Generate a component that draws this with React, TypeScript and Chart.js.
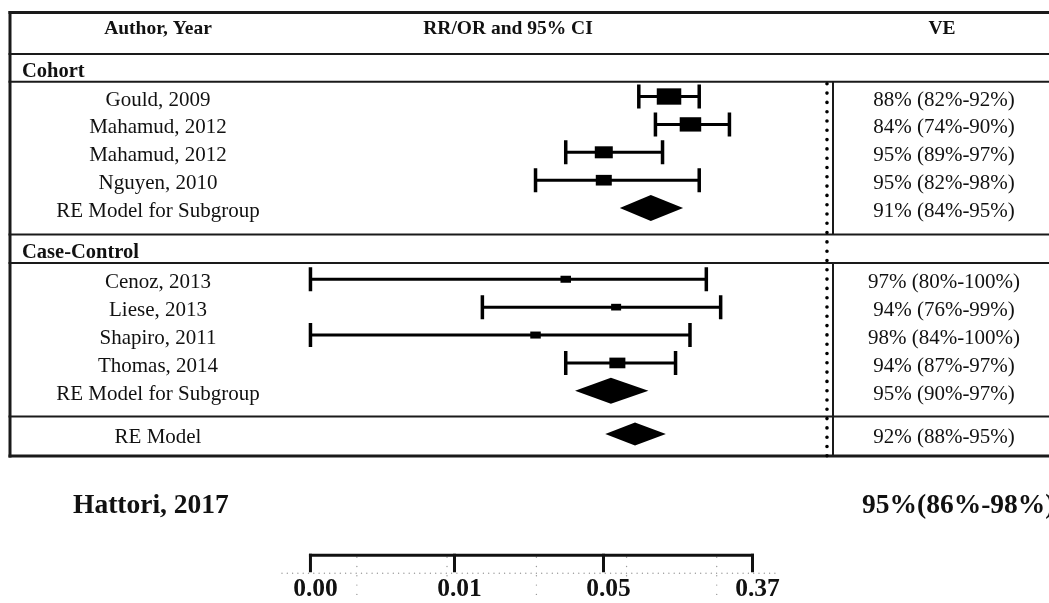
import React, { useEffect, useRef } from "react";
import { Chart, registerables } from "chart.js";

Chart.register(...registerables);

// ---------------- data ----------------
const headerLabels = ["Author, Year", "RR/OR and 95% CI", "VE"];
const groupLabels = ["Cohort", "Case-Control"];

const cohortStudies = ["Gould, 2009", "Mahamud, 2012", "Mahamud, 2012", "Nguyen, 2010"];
const cohortRR = [0.12, 0.16, 0.05, 0.05];
const cohortLower = [0.08, 0.1, 0.03, 0.02];
const cohortUpper = [0.18, 0.27, 0.11, 0.18];
const cohortWeight = [24.5, 21.5, 18, 16];
const cohortVE = ["88% (82%-92%)", "84% (74%-90%)", "95% (89%-97%)", "95% (82%-98%)"];

const ccStudies = ["Cenoz, 2013", "Liese, 2013", "Shapiro, 2011", "Thomas, 2014"];
const ccRR = [0.03, 0.059, 0.02, 0.06];
const ccLower = [0, 0.0098, 0, 0.03];
const ccUpper = [0.198, 0.24, 0.159, 0.131];
const ccWeight = [10.5, 10, 10.5, 16];
const ccVE = ["97% (80%-100%)", "94% (76%-99%)", "98% (84%-100%)", "94% (87%-97%)"];

const pooledLabels = ["RE Model for Subgroup", "RE Model for Subgroup", "RE Model"];
const pooledRR = [0.094, 0.055, 0.076];
const pooledLower = [0.062, 0.034, 0.051];
const pooledUpper = [0.145, 0.091, 0.115];
const pooledVE = ["91% (84%-95%)", "95% (90%-97%)", "92% (88%-95%)"];

const extraStudy = "Hattori, 2017";
const extraVE = "95%(86%-98%)";

const axisTickValues = [0.000912, 0.00674, 0.0498, 0.368];
const axisTickLabels = ["0.00", "0.01", "0.05", "0.37"];

// ---------------- layout ----------------
const X_MIN = -11.1;
const X_MAX = 2.98;
const X_CLIP = -6.933;
const Y_MIN = -3.459;
const Y_MAX = 18.154;

const COHORT_ROWS = [0, 1, 2, 3];
const CC_ROWS = [6.55, 7.55, 8.55, 9.55];
const POOLED_ROWS = [4, 10.55, 12.1];
const EXTRA_ROW = 14.6;
const AXIS_ROW = 16.44;

const TABLE_TOP = -3.011;
const HEAD_LINE = -1.523;
const G1_LINE = -0.527;
const G2_TOP = 4.946;
const G2_LINE = 5.968;
const OVERALL_LINE = 11.47;
const TABLE_BOTTOM = 12.885;
const HEADER_BASE = -2.24;
const GROUP_BASES = [-0.717, 5.8];
const GRID_X = [-6.31, -5.1, -3.9, -2.69, -1.48];

const TABLE_LEFT = 10;
const LABEL_CX = 158;
const HEAD_CX = [158, 508, 942];
const VE_CX = 944;
const COL_LINE_X = 833;

const SERIF = '"Liberation Serif", "Times New Roman", serif';
const INK = "#111";

const forestPlugin = {
  id: "forest",
  afterDatasetsDraw(chart: any) {
    const ctx: CanvasRenderingContext2D = chart.ctx;
    const xs = chart.scales.x;
    const ys = chart.scales.y;
    const px = (rr: number) => xs.getPixelForValue(Math.max(Math.log(rr), X_CLIP));
    const pxv = (v: number) => xs.getPixelForValue(v);
    const py = (v: number) => ys.getPixelForValue(v);
    const W = chart.width;

    ctx.save();
    ctx.strokeStyle = "#1a1a1a";
    ctx.fillStyle = INK;

    const hline = (v: number, lw: number) => {
      ctx.lineWidth = lw;
      ctx.beginPath();
      ctx.moveTo(TABLE_LEFT - 1.5, py(v));
      ctx.lineTo(W + 2, py(v));
      ctx.stroke();
    };
    // table borders
    hline(TABLE_TOP, 3);
    hline(HEAD_LINE, 2);
    hline(G1_LINE, 2);
    hline(G2_TOP, 2);
    hline(G2_LINE, 2);
    hline(OVERALL_LINE, 2);
    hline(TABLE_BOTTOM, 3);
    ctx.lineWidth = 3;
    ctx.beginPath();
    ctx.moveTo(TABLE_LEFT, py(TABLE_TOP) - 1.5);
    ctx.lineTo(TABLE_LEFT, py(TABLE_BOTTOM) + 1.5);
    ctx.stroke();
    // VE column separator
    ctx.lineWidth = 2;
    ctx.beginPath();
    ctx.moveTo(COL_LINE_X, py(G1_LINE));
    ctx.lineTo(COL_LINE_X, py(G2_TOP));
    ctx.moveTo(COL_LINE_X, py(G2_LINE));
    ctx.lineTo(COL_LINE_X, py(TABLE_BOTTOM));
    ctx.stroke();

    // reference line RR = 1
    ctx.save();
    ctx.strokeStyle = "#000";
    ctx.lineWidth = 3.6;
    ctx.lineCap = "round";
    ctx.setLineDash([0, 9.3]);
    ctx.beginPath();
    ctx.moveTo(px(1), py(G1_LINE) + 2);
    ctx.lineTo(px(1), py(TABLE_BOTTOM));
    ctx.stroke();
    ctx.restore();

    // texts
    ctx.textBaseline = "alphabetic";
    ctx.textAlign = "center";
    ctx.font = `bold 19.5px ${SERIF}`;
    headerLabels.forEach((t, i) => ctx.fillText(t, HEAD_CX[i], py(HEADER_BASE)));
    ctx.textAlign = "left";
    ctx.font = `bold 20.5px ${SERIF}`;
    groupLabels.forEach((t, i) => ctx.fillText(t, 22, py(GROUP_BASES[i])));

    ctx.font = `21px ${SERIF}`;
    ctx.textAlign = "center";
    const rowText = (label: string, ve: string, row: number) => {
      const y = py(row) + 9;
      ctx.fillText(label, LABEL_CX, y);
      ctx.fillText(ve, VE_CX, y);
    };
    cohortStudies.forEach((s, i) => rowText(s, cohortVE[i], COHORT_ROWS[i]));
    ccStudies.forEach((s, i) => rowText(s, ccVE[i], CC_ROWS[i]));
    pooledLabels.forEach((s, i) => rowText(s, pooledVE[i], POOLED_ROWS[i]));

    // study marks
    const study = (rr: number, lo: number, hi: number, w: number, row: number) => {
      const y = py(row);
      const x0 = px(lo);
      const x1 = px(hi);
      ctx.strokeStyle = "#000";
      ctx.lineWidth = 3;
      ctx.beginPath();
      ctx.moveTo(x0, y);
      ctx.lineTo(x1, y);
      ctx.stroke();
      ctx.lineWidth = 3.5;
      ctx.beginPath();
      ctx.moveTo(x0, y - 12);
      ctx.lineTo(x0, y + 12);
      ctx.moveTo(x1, y - 12);
      ctx.lineTo(x1, y + 12);
      ctx.stroke();
      const h = w / 1.5;
      ctx.fillStyle = "#000";
      ctx.fillRect(px(rr) - w / 2, y - h / 2, w, h);
    };
    cohortRR.forEach((r, i) => study(r, cohortLower[i], cohortUpper[i], cohortWeight[i], COHORT_ROWS[i]));
    ccRR.forEach((r, i) => study(r, ccLower[i], ccUpper[i], ccWeight[i], CC_ROWS[i]));

    // pooled diamonds
    pooledRR.forEach((r, i) => {
      const y = py(POOLED_ROWS[i]);
      const hh = i === 2 ? 11.5 : 13;
      ctx.fillStyle = "#000";
      ctx.beginPath();
      ctx.moveTo(px(pooledLower[i]), y);
      ctx.lineTo(px(r), y - hh);
      ctx.lineTo(px(pooledUpper[i]), y);
      ctx.lineTo(px(r), y + hh);
      ctx.closePath();
      ctx.fill();
    });

    // extra study row
    ctx.fillStyle = INK;
    ctx.font = `bold 27.5px ${SERIF}`;
    ctx.textAlign = "left";
    ctx.fillText(extraStudy, 73, py(EXTRA_ROW) + 9);
    ctx.fillText(extraVE, 862, py(EXTRA_ROW) + 9);

    // bottom axis
    const ay = py(AXIS_ROW);
    // faint dotted grid
    ctx.save();
    ctx.strokeStyle = "#9a9a9a";
    ctx.lineWidth = 1.4;
    ctx.lineCap = "round";
    ctx.setLineDash([0, 5.3]);
    ctx.beginPath();
    ctx.moveTo(282, ay + 18);
    ctx.lineTo(775, ay + 18);
    ctx.stroke();
    ctx.setLineDash([0, 9.3]);
    GRID_X.forEach((g) => {
      ctx.beginPath();
      ctx.moveTo(pxv(g), ay + 2);
      ctx.lineTo(pxv(g), chart.height);
      ctx.stroke();
    });
    ctx.restore();

    ctx.strokeStyle = "#111";
    ctx.lineWidth = 3;
    ctx.beginPath();
    ctx.moveTo(px(axisTickValues[0]) - 1.5, ay);
    ctx.lineTo(px(axisTickValues[axisTickValues.length - 1]) + 1.5, ay);
    ctx.stroke();
    ctx.beginPath();
    axisTickValues.forEach((t) => {
      ctx.moveTo(px(t), ay - 1.5);
      ctx.lineTo(px(t), ay + 17);
    });
    ctx.stroke();
    ctx.font = `bold 25.5px ${SERIF}`;
    ctx.textAlign = "center";
    ctx.fillStyle = INK;
    axisTickValues.forEach((t, i) => ctx.fillText(axisTickLabels[i], px(t) + 5, ay + 41));

    ctx.restore();
  },
};

export default function App() {
  const ref = useRef<HTMLCanvasElement>(null);
  useEffect(() => {
    const canvas = ref.current;
    if (!canvas) return;
    const chart = new Chart(canvas, {
      type: "scatter",
      data: {
        datasets: [
          {
            label: "Cohort",
            data: cohortRR.map((r, i) => ({ x: Math.log(r), y: COHORT_ROWS[i] })),
            pointRadius: 0,
          },
          {
            label: "Case-Control",
            data: ccRR.map((r, i) => ({ x: Math.log(r), y: CC_ROWS[i] })),
            pointRadius: 0,
          },
          {
            label: "RE Model",
            data: pooledRR.map((r, i) => ({ x: Math.log(r), y: POOLED_ROWS[i] })),
            pointRadius: 0,
          },
        ],
      },
      options: {
        responsive: false,
        animation: false,
        layout: { padding: 0 },
        plugins: {
          legend: { display: false },
          tooltip: { enabled: false },
          title: { display: false },
        },
        scales: {
          x: { type: "linear", min: X_MIN, max: X_MAX, display: false },
          y: { type: "linear", min: Y_MIN, max: Y_MAX, reverse: true, display: false },
        },
      },
      plugins: [forestPlugin],
    });
    return () => chart.destroy();
  }, []);
  return (
    <div style={{ position: "absolute", left: 0, top: 0, width: 1049, height: 603, background: "#fff" }}>
      <canvas ref={ref} width={1049} height={603} style={{ display: "block" }} />
    </div>
  );
}
